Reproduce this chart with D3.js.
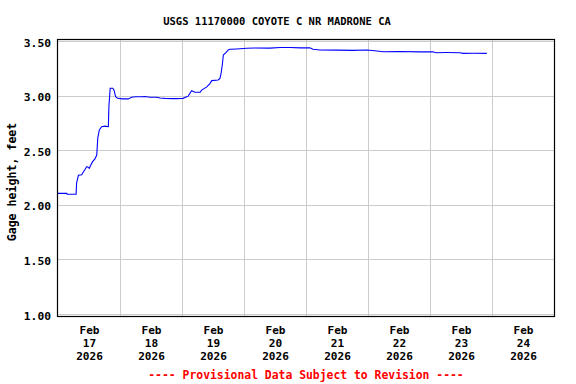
<!DOCTYPE html>
<html>
<head>
<meta charset="utf-8">
<script src="https://cdn.jsdelivr.net/npm/d3@7"></script>
<style>
  body { margin: 0; background: #fff; }
  text { font-family: "DejaVu Sans Mono", "Liberation Mono", monospace; font-weight: bold; }
</style>
</head>
<body>
<svg id="chart" width="576" height="384"></svg>
<script>
// chart text
const title = 'USGS 11170000 COYOTE C NR MADRONE CA';
const yLabel = 'Gage height, feet';
const footNote = '---- Provisional Data Subject to Revision ----';

// gage readings: hours after Feb 17 2026 00:00, and height in feet
const hours = [0, 3.4, 3.5, 7.0, 7.2, 7.9, 9.2, 9.8, 10.5, 11.1, 11.6, 12.1, 12.7, 13.4, 14.3, 15.0,
  15.4, 16.0, 16.9, 18.2, 19.5, 19.7, 20.2, 21.2, 21.7, 22.3, 23.1, 25.0, 27.2, 28.5, 30.0, 32.4,
  33.7, 35.6, 38.2, 39.5, 41.4, 45.0, 48.4, 49.8, 50.4, 51.7, 53.0, 55.0, 55.6, 57.6, 58.8, 59.5,
  62.0, 62.7, 63.1, 63.6, 64.0, 65.0, 65.9, 66.6, 69.2, 73.0, 76.0, 82.0, 86.0, 89.8, 94.0, 97.5,
  98.7, 101.4, 108.0, 114.0, 119.6, 123.5, 125.8, 132.0, 140.0, 145.2, 146.3, 150.0, 155.6, 156.8,
  161.0, 166.0];
const heights = [2.105, 2.105, 2.096, 2.096, 2.20, 2.27, 2.275, 2.30, 2.325, 2.35, 2.345, 2.334, 2.364, 2.395, 2.42, 2.456,
  2.61, 2.685, 2.715, 2.72, 2.715, 2.90, 3.067, 3.067, 3.05, 2.99, 2.975, 2.97, 2.97, 2.985, 2.99, 2.99,
  2.992, 2.985, 2.985, 2.978, 2.975, 2.972, 2.975, 2.99, 2.995, 3.045, 3.03, 3.03, 3.05, 3.08, 3.11, 3.137,
  3.143, 3.158, 3.20, 3.28, 3.372, 3.393, 3.418, 3.424, 3.427, 3.433, 3.436, 3.435, 3.44, 3.44, 3.437, 3.438,
  3.424, 3.418, 3.416, 3.414, 3.418, 3.408, 3.402, 3.404, 3.400, 3.402, 3.393, 3.394, 3.393, 3.387,
  3.388, 3.387];

// axes
const yTicks = [1.0, 1.5, 2.0, 2.5, 3.0, 3.5];
const dayNums = [17, 18, 19, 20, 21, 22, 23, 24];
const monthLabel = 'Feb';
const yearLabel = '2026';

const t0 = Date.UTC(2026, 1, 17);
const toDate = h => new Date(t0 + h * 3600e3);
const data = hours.map((h, i) => ({ date: toDate(h), value: heights[i] }));

const svg = d3.select('#chart');

const x = d3.scaleUtc()
  .domain([toDate(0), toDate(24 * 8)])
  .range([58, 554]);

const y = d3.scaleLinear()
  .domain([1.0, 3.5])
  .range([314, 41]);

// Grid lines
svg.append('g')
  .selectAll('line.hgrid')
  .data(yTicks)
  .enter().append('line')
  .attr('x1', 58).attr('x2', 554)
  .attr('y1', d => Math.round(y(d)) + 0.5)
  .attr('y2', d => Math.round(y(d)) + 0.5)
  .attr('stroke', '#cccccc')
  .attr('stroke-width', 1);

const dayLines = d3.range(1, 8).map(d => toDate(24 * d));
svg.append('g')
  .selectAll('line.vgrid')
  .data(dayLines)
  .enter().append('line')
  .attr('x1', d => Math.round(x(d)) + 0.5)
  .attr('x2', d => Math.round(x(d)) + 0.5)
  .attr('y1', 40).attr('y2', 316)
  .attr('stroke', '#cccccc')
  .attr('stroke-width', 1);

// Data line
const line = d3.line()
  .x(d => x(d.date))
  .y(d => y(d.value));

svg.append('path')
  .datum(data)
  .attr('fill', 'none')
  .attr('stroke', '#0000ff')
  .attr('stroke-width', 1.1)
  .attr('d', line);

// Frame
svg.append('rect')
  .attr('x', 57.5).attr('y', 39.5)
  .attr('width', 497).attr('height', 277)
  .attr('fill', 'none')
  .attr('stroke', '#000')
  .attr('stroke-width', 1.2);

// Y axis labels
const yAxis = svg.append('g')
  .attr('transform', 'translate(51,0)')
  .call(d3.axisLeft(y).tickValues(yTicks).tickSize(0).tickPadding(0).tickFormat(d3.format('.2f')));
yAxis.select('.domain').remove();
yAxis.selectAll('text')
  .attr('dy', null)
  .attr('y', 5)
  .style('font-family', '"DejaVu Sans Mono", monospace')
  .style('font-weight', 'bold')
  .style('font-size', '11.3px')
  .attr('fill', '#000');

// X axis labels: month / day / year at noon of each day
const noons = dayNums.map((d, i) => toDate(24 * i + 12));
const xAxis = svg.append('g')
  .attr('transform', 'translate(0,316)')
  .call(d3.axisBottom(x).tickValues(noons).tickSize(0).tickFormat(''));
xAxis.select('.domain').remove();
xAxis.selectAll('.tick').each(function(d, i) {
  const t = d3.select(this).append('text')
    .attr('fill', '#000')
    .attr('text-anchor', 'middle')
    .style('font-size', '11.1px');
  [monthLabel, String(dayNums[i]), yearLabel].forEach((s, k) => {
    t.append('tspan').attr('x', 0).attr('y', 18 + k * 13).text(s);
  });
});

// Title
svg.append('text')
  .attr('x', 277).attr('y', 24.5)
  .attr('text-anchor', 'middle')
  .style('font-size', '10.5px')
  .text(title);

// Y axis title
svg.append('text')
  .attr('transform', 'translate(15.5,182) rotate(-90)')
  .attr('text-anchor', 'middle')
  .style('font-size', '11.6px')
  .text(yLabel);

// Provisional note
svg.append('text')
  .attr('x', 306).attr('y', 378.5)
  .attr('text-anchor', 'middle')
  .attr('fill', '#ff0000')
  .style('font-size', '11.4px')
  .text(footNote);
</script>
</body>
</html>
